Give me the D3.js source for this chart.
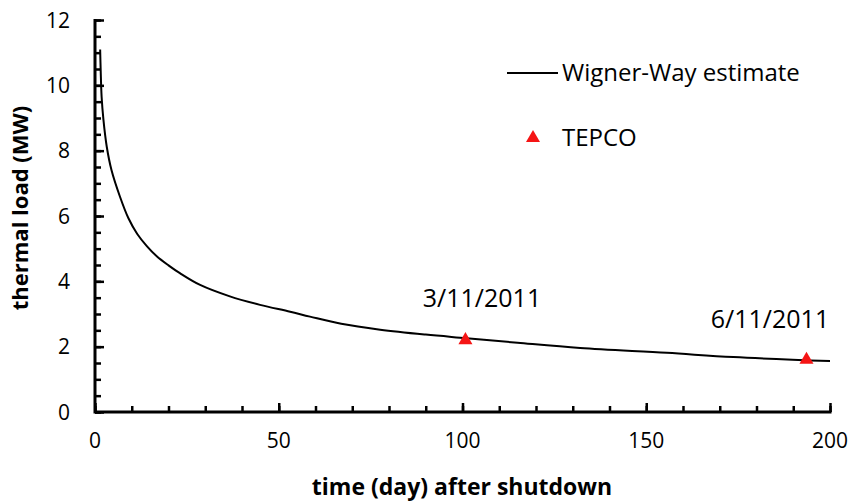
<!DOCTYPE html>
<html>
<head>
<meta charset="utf-8">
<script src="https://cdn.jsdelivr.net/npm/d3@7"></script>
<style>
  body { margin: 0; background: #fff; }
  svg text { font-family: "Open Sans", sans-serif; fill: #000; }
</style>
</head>
<body>
<div id="chart"></div>
<script>
// data
var days  = [1.4, 1.55, 1.8, 2.3, 3.2, 4.5, 6.8, 9.1, 11.5, 14.1, 16.8, 20, 23.1, 28.6, 36.7, 44.9, 53.1, 58.5, 67, 77.6, 90, 101.1, 115, 132, 155.6, 173.7, 200];
var loads = [11.1, 10.45, 9.65, 8.94, 8.12, 7.4, 6.59, 5.93, 5.45, 5.08, 4.77, 4.49, 4.25, 3.89, 3.54, 3.28, 3.07, 2.92, 2.7, 2.52, 2.37, 2.26, 2.12, 1.96, 1.81, 1.68, 1.56];

var tepcoDays  = [100.8, 193.6];
var tepcoLoads = [2.2, 1.6];
var tepcoLabels = ["3/11/2011", "6/11/2011"];

var xTicks = [0, 50, 100, 150, 200];
var yTicks = [0, 2, 4, 6, 8, 10, 12];

var W = 855, H = 502;
var mLeft = 95, mRight = 830, mTop = 20, mBottom = 412;

var svg = d3.select("#chart").append("svg")
    .attr("width", W)
    .attr("height", H);

var x = d3.scaleLinear().domain([0, 200]).range([mLeft, mRight]);
var y = d3.scaleLinear().domain([0, 12]).range([mBottom, mTop]);

function tickStyle(g) {
    g.select(".domain").remove();
    g.selectAll("line").attr("stroke", "#000").attr("stroke-width", 2.5);
}

// minor ticks (inside the plot)
svg.append("g")
    .attr("transform", "translate(0," + mBottom + ")")
    .call(d3.axisTop(x).tickValues(d3.range(0, 201, 10)).tickSize(6).tickFormat(""))
    .call(tickStyle);

svg.append("g")
    .attr("transform", "translate(" + mLeft + ",0)")
    .call(d3.axisRight(y).tickValues(d3.range(0, 12.01, 0.5)).tickSize(6).tickFormat(""))
    .call(tickStyle);

// major ticks
svg.append("g")
    .attr("transform", "translate(0," + mBottom + ")")
    .call(d3.axisTop(x).tickValues(xTicks).tickSize(9).tickFormat(""))
    .call(tickStyle);

svg.append("g")
    .attr("transform", "translate(" + mLeft + ",0)")
    .call(d3.axisRight(y).tickValues(yTicks).tickSize(9).tickFormat(""))
    .call(tickStyle);

// axis lines
svg.append("line")
    .attr("x1", mLeft).attr("x2", mRight + 1.5)
    .attr("y1", mBottom).attr("y2", mBottom)
    .attr("stroke", "#000").attr("stroke-width", 3);
svg.append("line")
    .attr("x1", mLeft).attr("x2", mLeft)
    .attr("y1", mTop - 1).attr("y2", mBottom + 1.5)
    .attr("stroke", "#000").attr("stroke-width", 3);

// tick labels
svg.selectAll(".xlab")
    .data(xTicks)
    .enter().append("text")
    .attr("class", "xlab")
    .attr("x", d => x(d))
    .attr("y", 448)
    .attr("text-anchor", "middle")
    .style("font-size", "21px")
    .text(d => d);

svg.selectAll(".ylab")
    .data(yTicks)
    .enter().append("text")
    .attr("class", "ylab")
    .attr("x", 70)
    .attr("y", d => y(d) + 7.5)
    .attr("text-anchor", "end")
    .style("font-size", "21px")
    .text(d => d);

// axis titles
svg.append("text")
    .attr("x", 462)
    .attr("y", 495)
    .attr("text-anchor", "middle")
    .style("font-size", "23px")
    .style("font-weight", "bold")
    .text("time (day) after shutdown");

svg.append("text")
    .attr("transform", "translate(28,208)rotate(-90)")
    .attr("text-anchor", "middle")
    .style("font-size", "22px")
    .style("font-weight", "bold")
    .text("thermal load (MW)");

// curve
var line = d3.line()
    .x((d, i) => x(days[i]))
    .y(d => y(d))
    .curve(d3.curveCatmullRom.alpha(0.5));

svg.append("path")
    .datum(loads)
    .attr("d", line)
    .attr("fill", "none")
    .attr("stroke", "#000")
    .attr("stroke-width", 2);

// TEPCO points
var tri = d3.symbol().type(d3.symbolTriangle).size(85);
svg.selectAll(".tepco")
    .data(tepcoLoads)
    .enter().append("path")
    .attr("class", "tepco")
    .attr("d", tri)
    .attr("transform", (d, i) => "translate(" + x(tepcoDays[i]) + "," + y(d) + ")")
    .attr("fill", "#f51515");

svg.selectAll(".note")
    .data(tepcoLabels)
    .enter().append("text")
    .attr("class", "note")
    .attr("x", (d, i) => [482, 770][i])
    .attr("y", (d, i) => [307, 328][i])
    .attr("text-anchor", "middle")
    .style("font-size", "25px")
    .text(d => d);

// legend
svg.append("line")
    .attr("x1", 507).attr("x2", 558)
    .attr("y1", 73).attr("y2", 73)
    .attr("stroke", "#000").attr("stroke-width", 2);
svg.append("text")
    .attr("x", 562).attr("y", 81)
    .style("font-size", "24px")
    .text("Wigner-Way estimate");

svg.append("path")
    .attr("d", tri)
    .attr("transform", "translate(533,138)")
    .attr("fill", "#f51515");
svg.append("text")
    .attr("x", 562).attr("y", 146)
    .style("font-size", "24px")
    .text("TEPCO");
</script>
</body>
</html>
